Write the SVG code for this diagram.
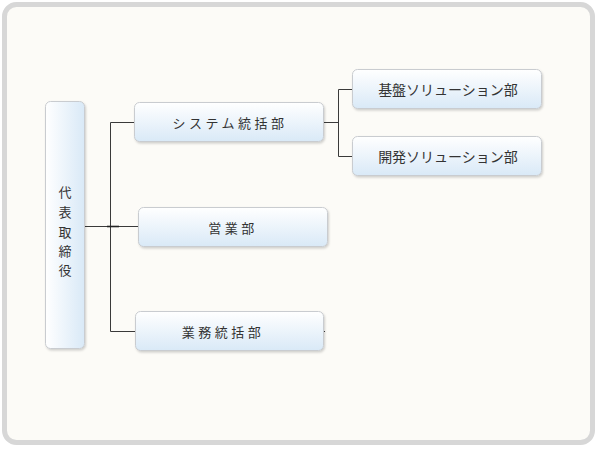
<svg xmlns="http://www.w3.org/2000/svg" width="600" height="450" viewBox="0 0 600 450">
<defs>
<linearGradient id="gv" x1="0" y1="0" x2="0" y2="1">
<stop offset="0" stop-color="#ffffff"/>
<stop offset="1" stop-color="#d9e9f7"/>
</linearGradient>
<linearGradient id="gh" x1="0" y1="0" x2="1" y2="0">
<stop offset="0" stop-color="#ffffff"/>
<stop offset="1" stop-color="#d9e9f7"/>
</linearGradient>
<filter id="sh" x="-10%" y="-10%" width="130%" height="140%">
<feDropShadow dx="1" dy="1.5" stdDeviation="1" flood-color="#000" flood-opacity="0.18"/>
</filter>
</defs>
<style>
.box{stroke:#c9ccd0;stroke-width:1;filter:url(#sh)}
.t{font-family:"Noto Sans CJK JP","Noto Sans",sans-serif;font-size:13px;fill:#333;text-anchor:middle;dominant-baseline:central}
.sp{letter-spacing:3.5px}
.ln{stroke:#3a3a3a;stroke-width:1;fill:none}
</style>
<rect x="4.5" y="4.5" width="588" height="438" rx="12" fill="#fcfbf7" stroke="#d7d7d7" stroke-width="5"/>
<g id="connectors">
<path class="ln" d="M84 226.5H138M110.5 122.5V331.5M110.5 122.5H134M110.5 331.5H135M323 122.5H338.5M338.5 89.5V156.5M338.5 89.5H352M338.5 156.5H352M322 331.5H325"/>
<path d="M107 226.5H119" stroke="#222" stroke-width="1.6"/>
</g>
<g id="n-ceo">
<rect class="box" x="45.5" y="101.5" width="39" height="247" rx="5" fill="url(#gh)"/>
<text class="t" x="65" y="191">代</text>
<text class="t" x="65" y="211">表</text>
<text class="t" x="65" y="231">取</text>
<text class="t" x="65" y="250">締</text>
<text class="t" x="65" y="269">役</text>
</g>
<g id="n-system">
<rect class="box" x="134.5" y="102.5" width="189" height="39" rx="5" fill="url(#gv)"/>
<text class="t sp" x="230" y="122">システム統括部</text>
</g>
<g id="n-sales">
<rect class="box" x="138.5" y="207.5" width="189" height="39" rx="5" fill="url(#gv)"/>
<text class="t sp" x="233" y="227">営業部</text>
</g>
<g id="n-ops">
<rect class="box" x="135.5" y="311.5" width="188" height="39" rx="5" fill="url(#gv)"/>
<text class="t sp" x="223" y="331">業務統括部</text>
</g>
<g id="n-infra">
<rect class="box" x="352.5" y="69.5" width="189" height="39" rx="5" fill="url(#gv)"/>
<text class="t" x="448" y="89" style="font-size:14px">基盤ソリューション部</text>
</g>
<g id="n-dev">
<rect class="box" x="352.5" y="136.5" width="189" height="39" rx="5" fill="url(#gv)"/>
<text class="t" x="448" y="156" style="font-size:14px">開発ソリューション部</text>
</g>
</svg>
